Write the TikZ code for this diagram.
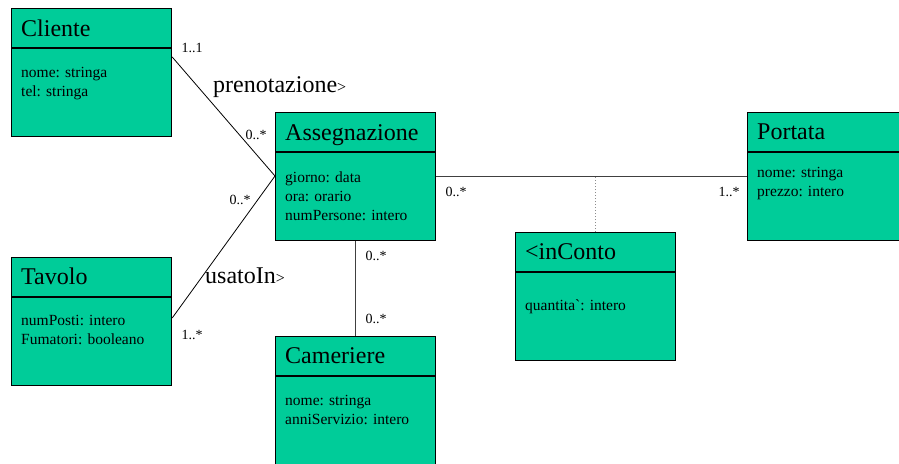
\documentclass[tikz,border=0pt]{standalone}
\usepackage{fontspec}
\setmainfont{Liberation Serif}
\newfontfamily\tnr{Liberation Serif}
\usetikzlibrary{calc}
\definecolor{umlgreen}{RGB}{0,204,153}
\tikzset{
  cls/.style={draw=black, line width=1.2pt, fill=umlgreen, minimum width=160pt, minimum height=128pt, anchor=north west, inner sep=0pt},
  divl/.style={draw=black, line width=1.1pt},
  ttl/.style={anchor=base west, inner sep=0pt, font=\tnr\fontsize{24}{24}\selectfont},
  att/.style={anchor=base west, inner sep=0pt, font=\tnr\fontsize{15.5}{16}\selectfont},
  mult/.style={inner sep=0pt, font=\tnr\fontsize{14}{14}\selectfont},
  rolename/.style={anchor=base west, inner sep=0pt, font=\tnr\fontsize{24}{24}\selectfont},
  conn/.style={draw=black, line width=0.8pt},
  conng/.style={draw=black!75, line width=1pt},
  dotl/.style={draw=black!45, line width=1pt, dotted}
}
\newcommand{\smallgt}{{\fontsize{16}{16}\selectfont >}}
\begin{document}
\begin{tikzpicture}[x=1pt,y=-1pt]
\useasboundingbox (0,0) rectangle (899,463);
\clip (0,0) rectangle (899,463);
% boxes
\node[cls] (cliente) at (11,8) {};
\node[cls] (assegn) at (275,112) {};
\node[cls] (tavolo) at (11,257) {};
\node[cls] (camer) at (275,336) {};
\node[cls] (inconto) at (515,232) {};
\node[cls] (portata) at (747,112) {};
% dividers
\foreach \b in {cliente,assegn,tavolo,camer,inconto,portata}{
  \draw[divl] ($(\b.north west)+(0,40)$) -- ($(\b.north east)+(0,40)$);
}
% titles and attributes
\node[ttl] (cliente-t) at ($(cliente.north west)+(10,28)$) {Cliente};
\node[att] (cliente-a1) at ($(cliente.north west)+(10,69)$) {nome: stringa};
\node[att] (cliente-a2) at ($(cliente.north west)+(10,88)$) {tel: stringa};

\node[ttl] (assegn-t) at ($(assegn.north west)+(10,28)$) {Assegnazione};
\node[att] (assegn-a1) at ($(assegn.north west)+(10,70)$) {giorno: data};
\node[att] (assegn-a2) at ($(assegn.north west)+(10,89)$) {ora: orario};
\node[att] (assegn-a3) at ($(assegn.north west)+(10,108)$) {numPersone: intero};

\node[ttl] (tavolo-t) at ($(tavolo.north west)+(10,27)$) {Tavolo};
\node[att] (tavolo-a1) at ($(tavolo.north west)+(10,68)$) {numPosti: intero};
\node[att] (tavolo-a2) at ($(tavolo.north west)+(10,87)$) {Fumatori: booleano};

\node[ttl] (camer-t) at ($(camer.north west)+(10,27)$) {Cameriere};
\node[att] (camer-a1) at ($(camer.north west)+(10,69)$) {nome: stringa};
\node[att] (camer-a2) at ($(camer.north west)+(10,88)$) {anniServizio: intero};

\node[ttl] (inconto-t) at ($(inconto.north west)+(10,27)$) {<inConto};
\node[att] (inconto-a1) at ($(inconto.north west)+(10,78)$) {quantita`: intero};

\node[ttl] (portata-t) at ($(portata.north west)+(10,27)$) {Portata};
\node[att] (portata-a1) at ($(portata.north west)+(10,65)$) {nome: stringa};
\node[att] (portata-a2) at ($(portata.north west)+(10,84)$) {prezzo: intero};
% connectors
\draw[conn] ($(cliente.north east)+(0,49)$) -- ($(assegn.north west)+(0,64)$);
\draw[conn] ($(tavolo.north east)+(0,61)$) -- ($(assegn.north west)+(0,64)$);
\draw[conng] ($(assegn.north east)+(0,64)$) coordinate (hstart) -- ($(portata.north west)+(0,64)$) coordinate (hend);
\draw[dotl] (inconto.north) -- (inconto.north |- hstart);
\draw[conng] (assegn.south) -- (camer.north);
% labels
\node[mult] (m1) at (192,48) {1..1};
\node[rolename] (r1) at (213,92) {prenotazione\smallgt};
\node[mult] (m2) at (256,135) {0..*};
\node[mult] (m3) at (240,200) {0..*};
\node[rolename] (r2) at (205,283) {usatoIn\smallgt};
\node[mult] (m4) at (192,335) {1..*};
\node[mult] (m5) at (376,256) {0..*};
\node[mult] (m6) at (376,319) {0..*};
\node[mult] (m7) at (456,192) {0..*};
\node[mult] (m8) at (729,192) {1..*};
\end{tikzpicture}
\end{document}
